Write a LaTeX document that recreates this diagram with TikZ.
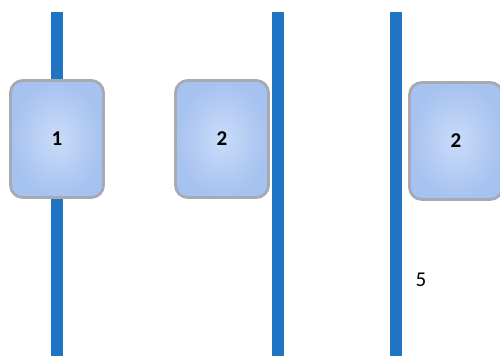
\documentclass[tikz,border=0pt]{standalone}
\usepackage{fontspec}
\setmainfont{Carlito}
\usepackage{tikz}
\usetikzlibrary{positioning,calc}
\definecolor{barblue}{HTML}{1F74C4}
\definecolor{tileblue}{HTML}{A6C2F0}
\definecolor{tilelight}{HTML}{C9DBF8}
\definecolor{tileedge}{HTML}{A7AAB2}

\begin{document}
\begin{tikzpicture}[
  x=0.02cm,y=-0.02cm,
  font=\large,
  bar/.style={draw=barblue,line width=0.24cm},
  tile/.style={draw=tileedge,line width=1.6pt,rounded corners=7pt,minimum width=1.86cm,minimum height=2.34cm,inner color=tilelight,outer color=tileblue,font=\large\bfseries},
  lbl/.style={inner sep=1pt}
]
\useasboundingbox (0,0) rectangle (500,355);
\clip (0,0) rectangle (500,355);
% bars
\coordinate (b1top) at (57,12);
\coordinate (b1bot) at (57,360);
\coordinate (b2top) at (278,12);
\coordinate (b2bot) at (278,360);
\coordinate (b3top) at (396,12);
\coordinate (b3bot) at (396,360);
\draw[bar] (b1top) -- (b1bot);
% tiles
\node[tile] (t1) at (57,139) {1};
\node[tile] (t2) at (222,139) {2};
\node[tile] (t3) at (456,141) {2};
\draw[bar] (b2top) -- (b2bot);
\draw[bar] (b3top) -- (b3bot);
\node[lbl] (five) at (421,280) {5};
\end{tikzpicture}
\end{document}
